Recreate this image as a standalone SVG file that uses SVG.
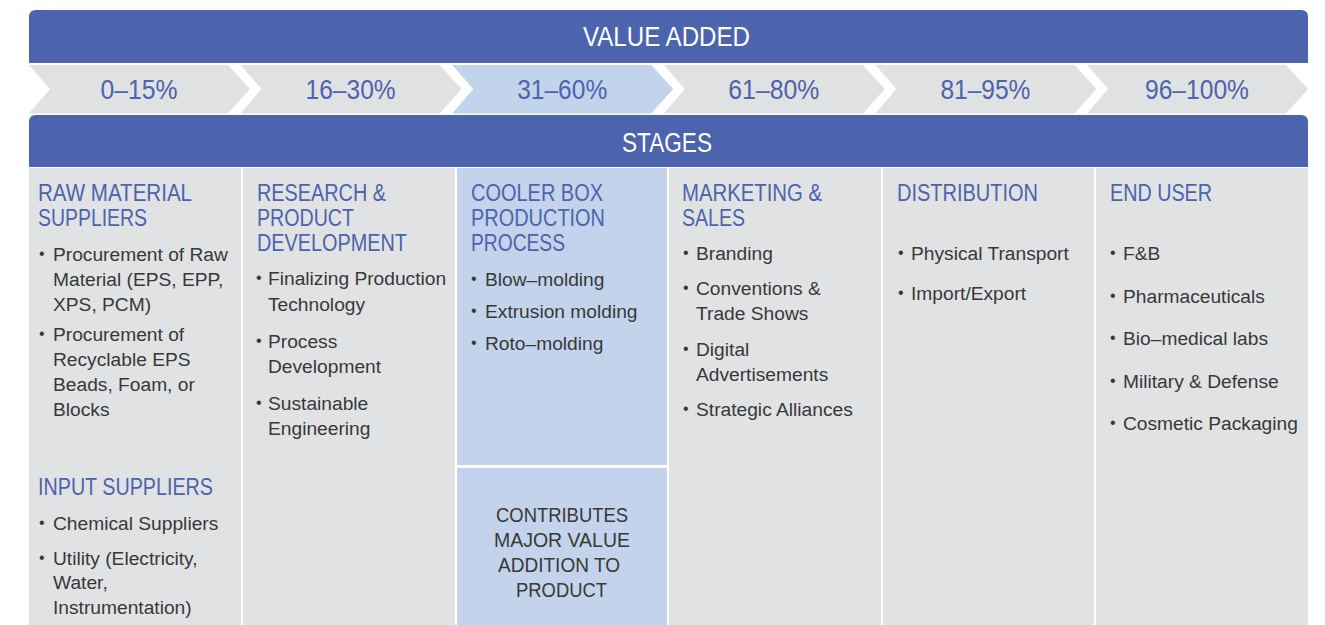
<svg xmlns="http://www.w3.org/2000/svg" width="1325" height="625" viewBox="0 0 1325 625">
  <defs>
    <style>
      .bar { fill: #4C63AD; }
      .chev { fill: #E0E1E3; }
      .chev-hi { fill: #C2D3EC; }
      .col { fill: #E1E2E4; }
      .col-hi { fill: #C3D3EB; }
      .ban { font-family: "Liberation Sans", Arial, sans-serif; font-size: 27px; fill: #FFFFFF; text-anchor: middle; }
      .pct { font-family: "Liberation Sans", Arial, sans-serif; font-size: 27px; fill: #4C63AD; text-anchor: middle; }
      .hd { font-family: "Liberation Sans", Arial, sans-serif; font-size: 23px; fill: #4C63AD; }
      .bd { font-family: "Liberation Sans", Arial, sans-serif; font-size: 19.2px; fill: #383838; }
      .bu { font-family: "Liberation Sans", Arial, sans-serif; font-size: 16px; fill: #383838; }
      .note { font-family: "Liberation Sans", Arial, sans-serif; font-size: 21px; fill: #383838; text-anchor: middle; }
    </style>
  </defs>

  <rect width="1325" height="625" fill="#FFFFFF"/>

  <!-- Value added banner -->
  <g id="value-added">
    <path class="bar" d="M29,63 V17 Q29,10 36,10 H1301 Q1308,10 1308,17 V63 Z"/>
    <text class="ban" x="666.5" y="46" textLength="167" lengthAdjust="spacingAndGlyphs">VALUE ADDED</text>
  </g>

  <!-- Value share chevrons -->
  <g id="chevron-0-15">
    <polygon class="chev" points="29,65 228,65 250,89 228,113.5 29,113.5 50,89"/>
    <text class="pct" x="139" y="98.5" textLength="77" lengthAdjust="spacingAndGlyphs">0–15%</text>
  </g>
  <g id="chevron-16-30">
    <polygon class="chev" points="240.6,65 439.6,65 461.6,89 439.6,113.5 240.6,113.5 261.6,89"/>
    <text class="pct" x="350.6" y="98.5" textLength="90" lengthAdjust="spacingAndGlyphs">16–30%</text>
  </g>
  <g id="chevron-31-60">
    <polygon class="chev-hi" points="452.2,65 651.2,65 673.2,89 651.2,113.5 452.2,113.5 473.2,89"/>
    <text class="pct" x="562.2" y="98.5" textLength="90" lengthAdjust="spacingAndGlyphs">31–60%</text>
  </g>
  <g id="chevron-61-80">
    <polygon class="chev" points="663.8,65 862.8,65 884.8,89 862.8,113.5 663.8,113.5 684.8,89"/>
    <text class="pct" x="773.8" y="98.5" textLength="91" lengthAdjust="spacingAndGlyphs">61–80%</text>
  </g>
  <g id="chevron-81-95">
    <polygon class="chev" points="875.4,65 1074.4,65 1096.4,89 1074.4,113.5 875.4,113.5 896.4,89"/>
    <text class="pct" x="985.4" y="98.5" textLength="90" lengthAdjust="spacingAndGlyphs">81–95%</text>
  </g>
  <g id="chevron-96-100">
    <polygon class="chev" points="1087,65 1286,65 1308,89 1286,113.5 1087,113.5 1108,89"/>
    <text class="pct" x="1197" y="98.5" textLength="104" lengthAdjust="spacingAndGlyphs">96–100%</text>
  </g>

  <!-- Stages banner -->
  <g id="stages">
    <path class="bar" d="M29,167 V122 Q29,115 36,115 H1301 Q1308,115 1308,122 V167 Z"/>
    <text class="ban" x="667" y="152" textLength="90" lengthAdjust="spacingAndGlyphs">STAGES</text>
  </g>

  <!-- Stage columns -->
  <g id="raw-material-suppliers">
    <rect class="col" x="29" y="168" width="212" height="457"/>
    <text class="hd" x="38" y="201" textLength="154" lengthAdjust="spacingAndGlyphs">RAW MATERIAL</text>
    <text class="hd" x="38" y="226" textLength="109" lengthAdjust="spacingAndGlyphs">SUPPLIERS</text>
    <text class="bu" x="39" y="259">•</text>
    <text class="bd" x="53" y="261">Procurement of Raw</text>
    <text class="bd" x="53" y="286">Material (EPS, EPP,</text>
    <text class="bd" x="53" y="311">XPS, PCM)</text>
    <text class="bu" x="39" y="339">•</text>
    <text class="bd" x="53" y="341">Procurement of</text>
    <text class="bd" x="53" y="366">Recyclable EPS</text>
    <text class="bd" x="53" y="391">Beads, Foam, or</text>
    <text class="bd" x="53" y="416">Blocks</text>
    <text class="hd" x="38" y="495" textLength="175" lengthAdjust="spacingAndGlyphs">INPUT SUPPLIERS</text>
    <text class="bu" x="39" y="528">•</text>
    <text class="bd" x="53" y="530">Chemical Suppliers</text>
    <text class="bu" x="39" y="563">•</text>
    <text class="bd" x="53" y="565">Utility (Electricity,</text>
    <text class="bd" x="53" y="589">Water,</text>
    <text class="bd" x="53" y="614">Instrumentation)</text>
  </g>

  <g id="research-product-development">
    <rect class="col" x="243" y="168" width="212" height="457"/>
    <text class="hd" x="257" y="201" textLength="129" lengthAdjust="spacingAndGlyphs">RESEARCH &amp;</text>
    <text class="hd" x="257" y="226" textLength="97" lengthAdjust="spacingAndGlyphs">PRODUCT</text>
    <text class="hd" x="257" y="251" textLength="150" lengthAdjust="spacingAndGlyphs">DEVELOPMENT</text>
    <text class="bu" x="256" y="283">•</text>
    <text class="bd" x="268" y="285">Finalizing Production</text>
    <text class="bd" x="268" y="311">Technology</text>
    <text class="bu" x="256" y="346">•</text>
    <text class="bd" x="268" y="348">Process</text>
    <text class="bd" x="268" y="373">Development</text>
    <text class="bu" x="256" y="408">•</text>
    <text class="bd" x="268" y="410">Sustainable</text>
    <text class="bd" x="268" y="435">Engineering</text>
  </g>

  <g id="cooler-box-production">
    <rect class="col-hi" x="457" y="168" width="210" height="297"/>
    <text class="hd" x="471" y="201" textLength="132" lengthAdjust="spacingAndGlyphs">COOLER BOX</text>
    <text class="hd" x="471" y="226" textLength="134" lengthAdjust="spacingAndGlyphs">PRODUCTION</text>
    <text class="hd" x="471" y="251" textLength="94" lengthAdjust="spacingAndGlyphs">PROCESS</text>
    <text class="bu" x="471" y="284">•</text>
    <text class="bd" x="485" y="286">Blow–molding</text>
    <text class="bu" x="471" y="316">•</text>
    <text class="bd" x="485" y="318">Extrusion molding</text>
    <text class="bu" x="471" y="348">•</text>
    <text class="bd" x="485" y="350">Roto–molding</text>
  </g>

  <g id="major-value-note">
    <rect class="col-hi" x="457" y="468" width="210" height="157"/>
    <text class="note" x="562" y="522" textLength="132" lengthAdjust="spacingAndGlyphs">CONTRIBUTES</text>
    <text class="note" x="562" y="547" textLength="136" lengthAdjust="spacingAndGlyphs">MAJOR VALUE</text>
    <text class="note" x="559" y="572" textLength="122" lengthAdjust="spacingAndGlyphs">ADDITION TO</text>
    <text class="note" x="561.5" y="597" textLength="91" lengthAdjust="spacingAndGlyphs">PRODUCT</text>
  </g>

  <g id="marketing-sales">
    <rect class="col" x="669" y="168" width="212" height="457"/>
    <text class="hd" x="682" y="201" textLength="140" lengthAdjust="spacingAndGlyphs">MARKETING &amp;</text>
    <text class="hd" x="682" y="226" textLength="63" lengthAdjust="spacingAndGlyphs">SALES</text>
    <text class="bu" x="683" y="258">•</text>
    <text class="bd" x="696" y="260">Branding</text>
    <text class="bu" x="683" y="293">•</text>
    <text class="bd" x="696" y="295">Conventions &amp;</text>
    <text class="bd" x="696" y="320">Trade Shows</text>
    <text class="bu" x="683" y="354">•</text>
    <text class="bd" x="696" y="356">Digital</text>
    <text class="bd" x="696" y="381">Advertisements</text>
    <text class="bu" x="683" y="414">•</text>
    <text class="bd" x="696" y="416">Strategic Alliances</text>
  </g>

  <g id="distribution">
    <rect class="col" x="883" y="168" width="211" height="457"/>
    <text class="hd" x="897" y="201" textLength="141" lengthAdjust="spacingAndGlyphs">DISTRIBUTION</text>
    <text class="bu" x="898" y="258">•</text>
    <text class="bd" x="911" y="260">Physical Transport</text>
    <text class="bu" x="898" y="298">•</text>
    <text class="bd" x="911" y="300">Import/Export</text>
  </g>

  <g id="end-user">
    <rect class="col" x="1096" y="168" width="212" height="457"/>
    <text class="hd" x="1110" y="201" textLength="102" lengthAdjust="spacingAndGlyphs">END USER</text>
    <text class="bu" x="1110" y="258">•</text>
    <text class="bd" x="1123" y="260">F&amp;B</text>
    <text class="bu" x="1110" y="301">•</text>
    <text class="bd" x="1123" y="303">Pharmaceuticals</text>
    <text class="bu" x="1110" y="343">•</text>
    <text class="bd" x="1123" y="345">Bio–medical labs</text>
    <text class="bu" x="1110" y="386">•</text>
    <text class="bd" x="1123" y="388">Military &amp; Defense</text>
    <text class="bu" x="1110" y="428">•</text>
    <text class="bd" x="1123" y="430">Cosmetic Packaging</text>
  </g>
</svg>
